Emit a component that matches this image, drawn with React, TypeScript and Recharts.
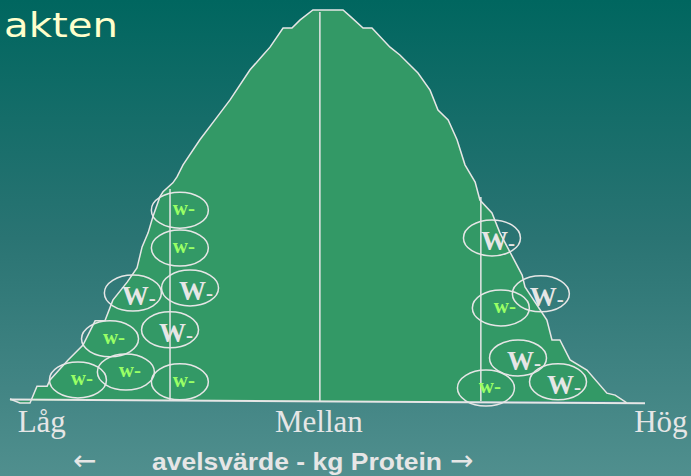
import React from "react";
import {
  ComposedChart,
  Area,
  Scatter,
  XAxis,
  YAxis,
  ReferenceLine,
} from "recharts";

// bell curve outline: avelsvärde index (-100 = låg, 100 = hög) vs relative frequency
const curveX = [
  -100, -96.9, -93.7, -91.5, -88.3, -87.4, -81.7, -77.0, -73.2, -70.1, -67.6,
  -63.1, -60.0, -58.4, -56.5, -55.0, -52.8, -51.8, -48.7, -47.4, -45.5, -40.2,
  -34.8, -30.7, -24.4, -20.3, -18.1, -14.0, -11.2, -8.7, -4.6, 4.9, 7.7, 11.2,
  14.0, 19.7, 22.8, 28.5, 32.3, 34.8, 38.0, 40.8, 43.3, 46.5, 48.0, 51.8, 54.3,
  61.3, 62.2, 69.1, 70.7, 73.2, 76.4, 81.7, 88.0, 90.6, 94.3,
];
const curveY = [
  0.5, -0.5, -0.5, 3.8, 3.8, 5.4, 10.5, 14.3, 20.5, 20.5, 25.8, 30.4, 34.0,
  39.4, 43.0, 47.1, 52.2, 53.5, 55.8, 57.3, 60.4, 66.8, 72.6, 77.0, 84.7, 88.5,
  90.5, 95.4, 95.4, 97.4, 100, 100, 98.0, 95.4, 95.4, 90.5, 88.5, 83.9, 79.5,
  74.4, 71.9, 66.8, 60.4, 56.0, 51.4, 48.1, 43.0, 32.2, 29.2, 20.7, 15.6, 15.6,
  10.5, 7.9, 2.0, 1.5, -0.5,
];

// the "w-" animals drawn on the curve
const markX = [
  -46.5, -46.5, -61.3, -43.3, -68.5, -49.6, -78.6, -63.5, -46.5, 51.8, 67.2,
  54.6, 60.0, 72.6, 49.9,
];
const markY = [
  48.8, 39.1, 27.6, 28.9, 15.9, 18.2, 5.4, 7.4, 4.9, 41.7, 27.4, 23.8, 11.0,
  4.9, 3.3,
];
const markKind = [
  "w", "w", "W", "W", "w", "W", "w", "w", "w", "W", "W", "w", "W", "W", "w",
];

// dividers: x position and how high up the curve they reach
const dividerX = [-49.6, -2.4, 48.3];
const dividerTop = [54.2, 99.5, 52.2];

const tickValues = [-90, -2.7, 105];
const tickLabels = ["Låg", "Mellan", "Hög"];

const curve = curveX.map((x, i) => ({ x, y: curveY[i] }));
const marks = markX.map((x, i) => ({ x, y: markY[i], kind: markKind[i] }));

const LINE = "#e6e6e6";

const Mark = (props: any) => {
  const { cx, cy, payload } = props;
  const big = payload.kind === "W";
  return (
    <g>
      <ellipse
        cx={cx}
        cy={cy}
        rx={28.5}
        ry={18}
        fill="none"
        stroke={LINE}
        strokeWidth={1.5}
      />
      {big ? (
        <text
          x={cx - 11}
          y={cy + 12}
          fontFamily="Liberation Serif"
          fontWeight="bold"
          fill="#e6e6e6"
        >
          <tspan fontSize={27}>W</tspan>
          <tspan fontSize={21}>-</tspan>
        </text>
      ) : (
        <text
          x={cx + 4}
          y={cy + 5}
          textAnchor="middle"
          fontFamily="Liberation Serif"
          fontWeight="bold"
          fontSize={21}
          fill="#99ff66"
        >
          w-
        </text>
      )}
    </g>
  );
};

const Tick = (props: any) => {
  const { x, y, payload } = props;
  const i = tickValues.indexOf(payload.value);
  return (
    <text
      x={x}
      y={y + 13}
      textAnchor="middle"
      fontFamily="Liberation Serif"
      fontSize={31}
      fill={LINE}
    >
      {tickLabels[i]}
    </text>
  );
};

export default function App() {
  return (
    <div
      style={{
        position: "fixed",
        left: 0,
        top: 0,
        width: 691,
        height: 476,
        background: "linear-gradient(to bottom, #00665f 0%, #2a7473 50%, #508f8e 100%)",
        overflow: "hidden",
      }}
    >
      <ComposedChart
        width={691}
        height={476}
        data={curve}
        margin={{ top: 10, right: 14.25, bottom: 35, left: 10 }}
      >
        <XAxis
          type="number"
          dataKey="x"
          domain={[-100, 110]}
          ticks={tickValues}
          tick={<Tick />}
          axisLine={false}
          tickLine={false}
          height={30}
          interval={0}
        />
        <YAxis type="number" dataKey="y" domain={[-2.56, 100]} hide />
        <Area
          type="linear"
          dataKey="y"
          fill="#339966"
          fillOpacity={1}
          stroke={LINE}
          strokeWidth={1.5}
          dot={false}
          activeDot={false}
          isAnimationActive={false}
        />
        {dividerX.map((x, i) => (
          <ReferenceLine
            key={i}
            segment={[
              { x, y: 0 },
              { x, y: dividerTop[i] },
            ]}
            stroke={LINE}
            strokeWidth={1.5}
          />
        ))}
        <ReferenceLine
          segment={[
            { x: -100, y: 0.4 },
            { x: 100, y: -0.6 },
          ]}
          stroke={LINE}
          strokeWidth={2}
        />
        <Scatter
          data={marks}
          dataKey="y"
          shape={<Mark />}
          isAnimationActive={false}
        />
      </ComposedChart>
      <svg
        width={691}
        height={476}
        style={{ position: "absolute", left: 0, top: 0, pointerEvents: "none" }}
      >
        <text
          x={4}
          y={37}
          fontFamily="DejaVu Sans"
          fontSize={34}
          textLength={114}
          lengthAdjust="spacingAndGlyphs"
          fill="#ffffcc"
        >
          akten
        </text>
        <text x={73} y={470} fontFamily="DejaVu Sans" fontSize={28} fill={LINE}>
          ←
        </text>
        <text
          x={152}
          y={470}
          fontFamily="Liberation Sans"
          fontWeight="bold"
          fontSize={24}
          textLength={290}
          lengthAdjust="spacingAndGlyphs"
          fill={LINE}
        >
          avelsvärde - kg Protein
        </text>
        <text x={450} y={470} fontFamily="DejaVu Sans" fontSize={28} fill={LINE}>
          →
        </text>
      </svg>
    </div>
  );
}
